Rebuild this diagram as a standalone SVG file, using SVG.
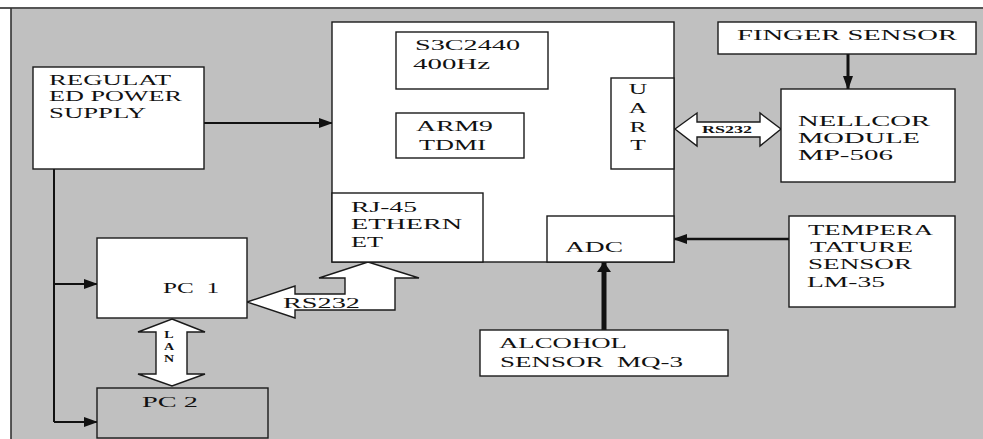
<svg xmlns="http://www.w3.org/2000/svg" width="983" height="439" viewBox="0 0 983 439">
<defs>
<style>
.box{fill:#ffffff;stroke:#1a1a1a;stroke-width:1.4}
.gbox{fill:#c0c0c0;stroke:#1a1a1a;stroke-width:1.4}
.t{font-family:"Liberation Serif","Times New Roman",serif;font-size:15px;fill:#111}
.s{font-family:"Liberation Serif","Times New Roman",serif;font-size:10px;font-weight:bold;fill:#111}
.ln{stroke:#111;fill:none}
.fat{fill:#ffffff;stroke:#1a1a1a;stroke-width:1.4}
</style>
<marker id="ah" markerUnits="userSpaceOnUse" markerWidth="14" markerHeight="10" refX="13" refY="5" orient="auto">
<path d="M0,0 L14,5 L0,10 z" fill="#111"/>
</marker>
<marker id="ah2" markerUnits="userSpaceOnUse" markerWidth="14" markerHeight="14" refX="10" refY="7" orient="auto">
<path d="M0,0 L10,7 L0,14 z" fill="#111"/>
</marker>
</defs>
<rect x="0" y="0" width="983" height="439" fill="#ffffff"/>
<rect x="11" y="8" width="972" height="431" fill="#c0c0c0"/>
<line x1="0" y1="8" x2="983" y2="8" stroke="#555" stroke-width="2"/>
<line x1="11" y1="8" x2="11" y2="439" stroke="#333" stroke-width="1.6"/>

<g id="connectors">
<line class="ln" x1="204" y1="123" x2="332" y2="123" stroke-width="2" marker-end="url(#ah)"/>
<polyline class="ln" points="54,169 54,422" stroke-width="2"/>
<line class="ln" x1="54" y1="284" x2="97" y2="284" stroke-width="2" marker-end="url(#ah)"/>
<line class="ln" x1="54" y1="422" x2="97" y2="422" stroke-width="2" marker-end="url(#ah)"/>
<line class="ln" x1="848" y1="54" x2="848" y2="89" stroke-width="3" marker-end="url(#ah)"/>
<line class="ln" x1="789" y1="239" x2="674" y2="239" stroke-width="2.5" marker-end="url(#ah)"/>
<line class="ln" x1="604" y1="330" x2="604" y2="262" stroke-width="5" marker-end="url(#ah2)"/>
<polygon class="fat" points="675,129 697,113 697,122 760,122 760,113 781,129 760,146 760,137 697,137 697,146"/>
<text class="s" x="702" y="133" textLength="50" lengthAdjust="spacingAndGlyphs">RS232</text>
<polygon class="fat" points="172,319 205,332 187,332 187,374 205,374 172,386 138,374 156,374 156,332 138,332"/>
<text class="s" text-anchor="middle" transform="translate(169,338) scale(1.4,1)">L</text>
<text class="s" text-anchor="middle" transform="translate(169,350) scale(1.4,1)">A</text>
<text class="s" text-anchor="middle" transform="translate(169,362) scale(1.4,1)">N</text>
<polygon class="fat" points="247,302 295,286 295,294 345,294 345,278 319,278 368,262 419,278 395,278 395,310 295,310 295,318"/>
<text class="t" x="283" y="308" textLength="77" lengthAdjust="spacingAndGlyphs">RS232</text>
</g>

<g id="power">
<rect class="box" x="33" y="67" width="171" height="102"/>
<text class="t" x="49" y="85" textLength="122" lengthAdjust="spacingAndGlyphs">REGULAT</text>
<text class="t" x="49" y="101" textLength="133" lengthAdjust="spacingAndGlyphs">ED POWER</text>
<text class="t" x="49" y="118" textLength="97" lengthAdjust="spacingAndGlyphs">SUPPLY</text>
</g>

<g id="main">
<rect class="box" x="332" y="22" width="342" height="240"/>
</g>
<g id="s3c">
<rect class="box" x="396" y="32" width="152" height="57"/>
<text class="t" x="415" y="50" textLength="105" lengthAdjust="spacingAndGlyphs">S3C2440</text>
<text class="t" x="413" y="69" textLength="77" lengthAdjust="spacingAndGlyphs">400Hz</text>
</g>
<g id="arm">
<rect class="box" x="396" y="113" width="128" height="45"/>
<text class="t" x="416" y="131" textLength="77" lengthAdjust="spacingAndGlyphs">ARM9</text>
<text class="t" x="419" y="150" textLength="67" lengthAdjust="spacingAndGlyphs">TDMI</text>
</g>
<g id="uart">
<rect class="box" x="611" y="78" width="63" height="91"/>
<text class="t" text-anchor="middle" transform="translate(638,94) scale(1.7,1)">U</text>
<text class="t" text-anchor="middle" transform="translate(638,113) scale(1.7,1)">A</text>
<text class="t" text-anchor="middle" transform="translate(638,132) scale(1.7,1)">R</text>
<text class="t" text-anchor="middle" transform="translate(638,150) scale(1.7,1)">T</text>
</g>
<g id="rj45">
<rect class="box" x="332" y="193" width="151" height="69"/>
<text class="t" x="351" y="212" textLength="66" lengthAdjust="spacingAndGlyphs">RJ-45</text>
<text class="t" x="351" y="229" textLength="111" lengthAdjust="spacingAndGlyphs">ETHERN</text>
<text class="t" x="351" y="247" textLength="32" lengthAdjust="spacingAndGlyphs">ET</text>
</g>
<g id="adc">
<rect class="box" x="547" y="216" width="127" height="46"/>
<text class="t" x="565" y="252" textLength="58" lengthAdjust="spacingAndGlyphs">ADC</text>
</g>

<g id="finger">
<rect class="box" x="718" y="22" width="258" height="32"/>
<text class="t" x="737" y="40" textLength="220" lengthAdjust="spacingAndGlyphs">FINGER SENSOR</text>
</g>
<g id="nellcor">
<rect class="box" x="781" y="89" width="174" height="93"/>
<text class="t" x="798" y="126" textLength="132" lengthAdjust="spacingAndGlyphs">NELLCOR</text>
<text class="t" x="798" y="143" textLength="122" lengthAdjust="spacingAndGlyphs">MODULE</text>
<text class="t" x="798" y="160" textLength="95" lengthAdjust="spacingAndGlyphs">MP-506</text>
</g>
<g id="temp">
<rect class="box" x="789" y="216" width="166" height="91"/>
<text class="t" x="808" y="235" textLength="125" lengthAdjust="spacingAndGlyphs">TEMPERA</text>
<text class="t" x="810" y="252" textLength="103" lengthAdjust="spacingAndGlyphs">TATURE</text>
<text class="t" x="808" y="269" textLength="104" lengthAdjust="spacingAndGlyphs">SENSOR</text>
<text class="t" x="807" y="287" textLength="78" lengthAdjust="spacingAndGlyphs">LM-35</text>
</g>
<g id="alcohol">
<rect class="box" x="480" y="330" width="248" height="46"/>
<text class="t" x="499" y="348" textLength="128" lengthAdjust="spacingAndGlyphs">ALCOHOL</text>
<text class="t" x="500" y="367" textLength="183" lengthAdjust="spacingAndGlyphs" xml:space="preserve">SENSOR  MQ-3</text>
</g>
<g id="pc1">
<rect class="box" x="97" y="238" width="150" height="80"/>
<text class="t" x="163" y="293" textLength="56" lengthAdjust="spacingAndGlyphs" xml:space="preserve">PC  1</text>
</g>
<g id="pc2">
<rect class="gbox" x="97" y="388" width="171" height="50"/>
<text class="t" x="142" y="407" textLength="56" lengthAdjust="spacingAndGlyphs">PC 2</text>
</g>
</svg>
